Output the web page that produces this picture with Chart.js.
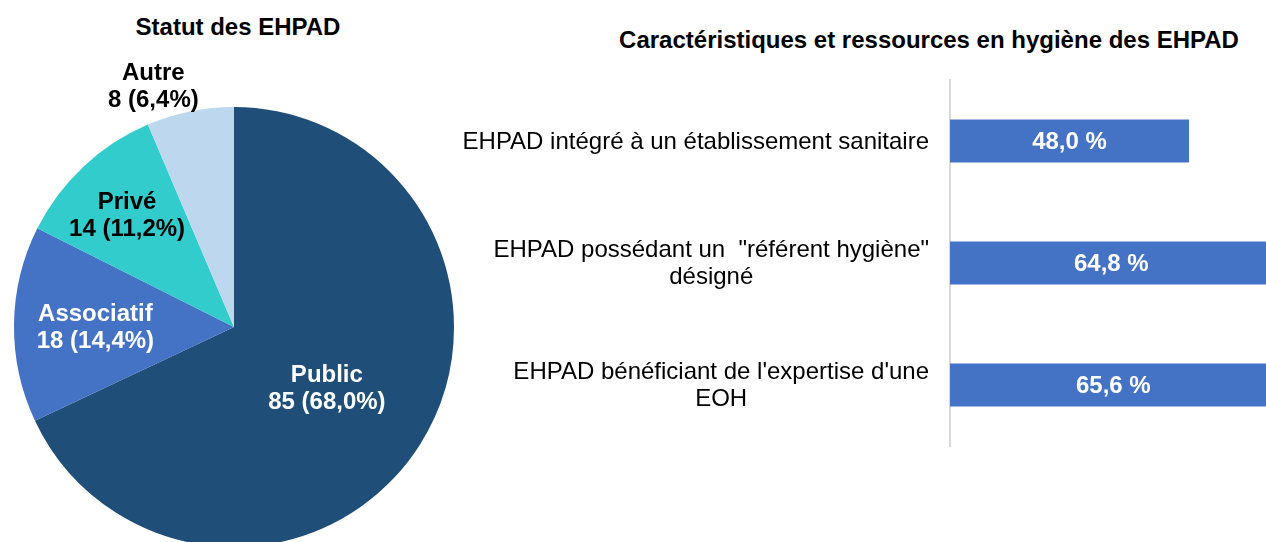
<!DOCTYPE html>
<html lang="fr">
<head>
<meta charset="utf-8">
<title>Statut et ressources en hygiène des EHPAD</title>
<script src="https://cdn.jsdelivr.net/npm/chart.js@4.4.1/dist/chart.umd.min.js"></script>
<style>
html,body{margin:0;padding:0;width:1266px;height:542px;overflow:hidden;background:#fff;font-family:"Liberation Sans",Arial,sans-serif;}
.title{position:absolute;font-weight:bold;font-size:24px;color:#000;white-space:nowrap;transform:translate(-50%,-50%);}
#pieTitle{left:238px;top:27px;}
#barTitle{left:929px;top:40px;}
#pieChart{position:absolute;left:0;top:0;}
#barChart{position:absolute;left:460px;top:0;}
</style>
</head>
<body>
<div class="title" id="pieTitle">Statut des EHPAD</div>
<div class="title" id="barTitle">Caractéristiques et ressources en hygiène des EHPAD</div>
<canvas id="pieChart" width="468" height="560" style="width:468px;height:560px"></canvas>
<canvas id="barChart" width="988" height="542" style="width:988px;height:542px"></canvas>
<script>
// statut des EHPAD (nombre)
const statutLabels = ["Public", "Associatif", "Privé", "Autre"];
const statutValues = [85, 18, 14, 8];
const statutColors = ["#1F4E79", "#4472C4", "#33CCCC", "#BDD7EE"];

// caractéristiques (% des EHPAD)
const ressourcesLabels = [
  ["EHPAD intégré à un établissement sanitaire"],
  ["EHPAD possédant un  \"référent hygiène\"", "désigné"],
  ["EHPAD bénéficiant de l'expertise d'une", "EOH"]
];
const ressourcesValues = [48.0, 64.8, 65.6];

// placement des étiquettes du camembert
const pieLabelRadius = [0.5, 0.63, 0.71, 1.16];
const pieLabelShift = [0, 0, 0, -6.9];
const pieLabelColors = ["#fff", "#fff", "#000", "#000"];

const FONT = '"Liberation Sans", Arial, sans-serif';

function frNum(v){
  return v.toFixed(1).replace(".", ",");
}

const pieLabels = {
  id: "pieLabels",
  afterDatasetsDraw(chart){
    const ctx = chart.ctx;
    const meta = chart.getDatasetMeta(0);
    const total = statutValues.reduce((a, b) => a + b, 0);
    ctx.save();
    ctx.font = "bold 24px " + FONT;
    ctx.textAlign = "center";
    ctx.textBaseline = "middle";
    meta.data.forEach((arc, i) => {
      const p = arc.getProps(["x", "y", "startAngle", "endAngle", "outerRadius"], true);
      const mid = (p.startAngle + p.endAngle) / 2 + pieLabelShift[i] * Math.PI / 180;
      const r = p.outerRadius * pieLabelRadius[i];
      const x = p.x + Math.cos(mid) * r;
      const y = p.y + Math.sin(mid) * r + 2.5;
      ctx.fillStyle = pieLabelColors[i];
      ctx.fillText(statutLabels[i], x, y - 13.5);
      ctx.fillText(statutValues[i] + " (" + frNum(statutValues[i] / total * 100) + "%)", x, y + 13.5);
    });
    ctx.restore();
  }
};

const barLabels = {
  id: "barLabels",
  afterDatasetsDraw(chart){
    const ctx = chart.ctx;
    const yScale = chart.scales.y;
    const meta = chart.getDatasetMeta(0);
    ctx.save();
    ctx.textBaseline = "middle";

    // libellés des catégories, centrés ligne à ligne, calés à droite
    ctx.font = "24px " + FONT;
    ctx.fillStyle = "#000";
    ctx.textAlign = "center";
    const right = chart.chartArea.left - 21;
    ressourcesLabels.forEach((lines, i) => {
      const w = Math.max(...lines.map(l => ctx.measureText(l).width));
      const cy = yScale.getPixelForValue(i) + 1;
      lines.forEach((l, k) => {
        ctx.fillText(l, right - w / 2, cy + (k - (lines.length - 1) / 2) * 27);
      });
    });

    // valeurs dans les barres
    ctx.font = "bold 24px " + FONT;
    ctx.fillStyle = "#fff";
    meta.data.forEach((bar, i) => {
      const p = bar.getProps(["x", "y", "base"], true);
      ctx.fillText(frNum(ressourcesValues[i]) + " %", (p.x + p.base) / 2, p.y + 1);
    });
    ctx.restore();
  }
};

new Chart(document.getElementById("pieChart"), {
  type: "pie",
  data: {
    labels: statutLabels,
    datasets: [{
      data: statutValues,
      backgroundColor: statutColors,
      borderWidth: 0
    }]
  },
  options: {
    responsive: false,
    animation: false,
    layout: {padding: {left: 14, right: 14, top: 107, bottom: 13}},
    plugins: {legend: {display: false}, tooltip: {enabled: false}}
  },
  plugins: [pieLabels]
});

new Chart(document.getElementById("barChart"), {
  type: "bar",
  data: {
    labels: ressourcesLabels,
    datasets: [{
      data: ressourcesValues,
      backgroundColor: "#4472C4",
      categoryPercentage: 1,
      barPercentage: 0.352
    }]
  },
  options: {
    indexAxis: "y",
    responsive: false,
    animation: false,
    layout: {padding: {left: 490, right: 0, top: 80, bottom: 96}},
    scales: {
      x: {display: false, min: 0, max: 100},
      y: {
        ticks: {display: false},
        grid: {display: false, drawTicks: false},
        border: {display: true, color: "#d9d9d9", width: 2}
      }
    },
    plugins: {legend: {display: false}, tooltip: {enabled: false}}
  },
  plugins: [barLabels]
});
</script>
</body>
</html>
